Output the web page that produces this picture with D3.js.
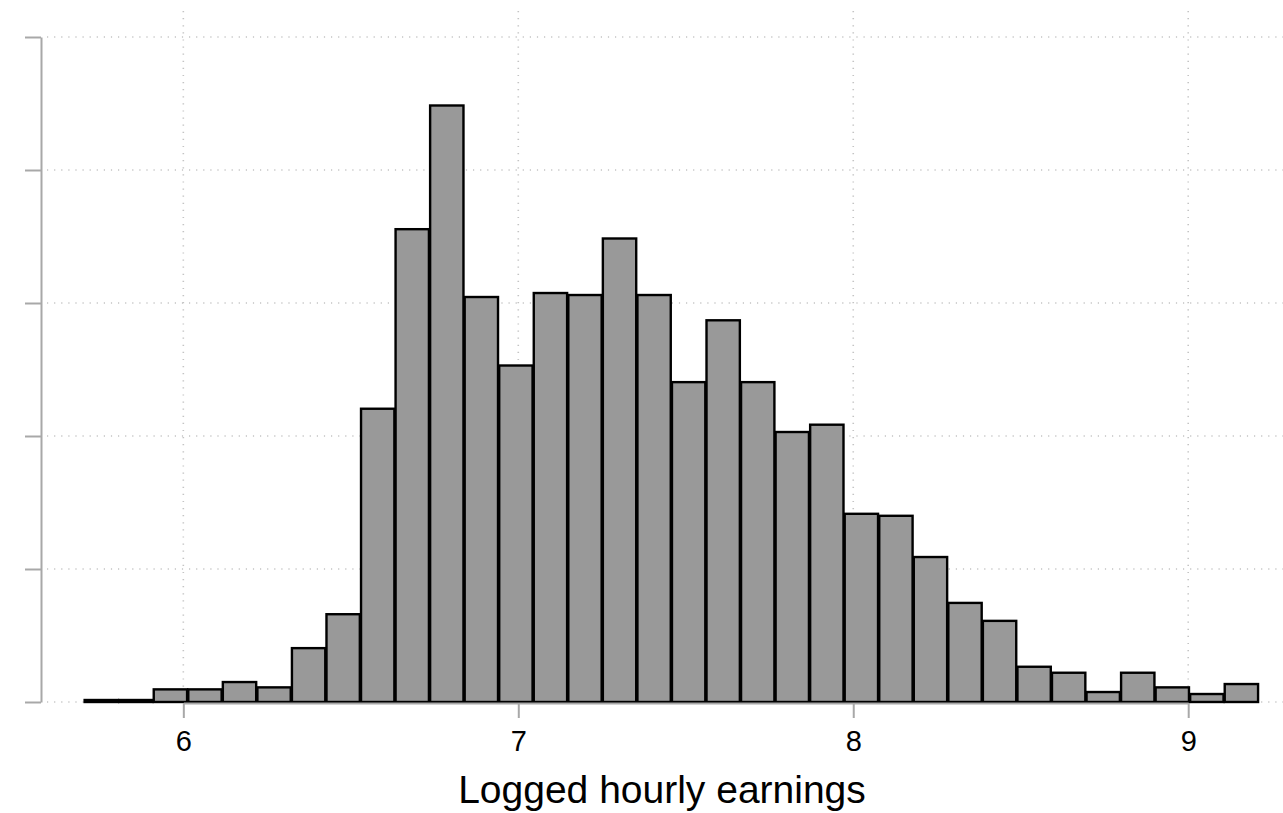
<!DOCTYPE html>
<html>
<head>
<meta charset="utf-8">
<script src="https://cdn.jsdelivr.net/npm/d3@7"></script>
<style>
  body { margin: 0; background: #fff; }
  text { font-family: "Liberation Sans", Arial, Helvetica, sans-serif; fill: #000; }
</style>
</head>
<body>
<div id="chart"></div>
<script>
// histogram bins (density)
const binStart = 5.7036,
    binWidth = 0.10314;
const density = [0.003, 0.003, 0.019, 0.019, 0.030, 0.022, 0.081, 0.132, 0.441, 0.711,
    0.897, 0.609, 0.506, 0.615, 0.612, 0.697, 0.612, 0.481, 0.574, 0.481,
    0.406, 0.417, 0.283, 0.280, 0.218, 0.149, 0.122, 0.053, 0.044, 0.015,
    0.044, 0.022, 0.012, 0.027];
const xTicks = [6, 7, 8, 9];
const yTicks = [0, 0.2, 0.4, 0.6, 0.8, 1];
const xTitle = "Logged hourly earnings";

const width = 1283,
    height = 813,
    margin = ({ top: 37, right: 0, bottom: 111, left: 47 });

const svg = d3.select("#chart")
    .append("svg")
    .attr("width", width)
    .attr("height", height);

let x = d3.scaleLinear()
    .domain([5.593, 9.283])
    .range([margin.left, width - margin.right]);

let y = d3.scaleLinear()
    .domain([0, 1])
    .range([height - margin.bottom, margin.top]);

const bins = density.map((d, i) => ({ x0: binStart + i * binWidth, x1: binStart + (i + 1) * binWidth, v: d }));

// dotted grid
svg.append("g")
    .selectAll("line")
    .data(yTicks)
    .join("line")
    .attr("x1", margin.left)
    .attr("x2", width)
    .attr("y1", d => y(d))
    .attr("y2", d => y(d))
    .attr("stroke", "#c4c4c4")
    .attr("stroke-width", 1.6)
    .attr("stroke-dasharray", "1.2,5.9");

svg.append("g")
    .selectAll("line")
    .data(xTicks)
    .join("line")
    .attr("x1", d => x(d))
    .attr("x2", d => x(d))
    .attr("y1", 11)
    .attr("y2", y(0))
    .attr("stroke", "#c4c4c4")
    .attr("stroke-width", 1.6)
    .attr("stroke-dasharray", "1.2,5.9");

// bars
svg.append("g")
    .selectAll("rect")
    .data(bins)
    .join("rect")
    .attr("x", d => x(d.x0) + 0.6)
    .attr("width", d => x(d.x1) - x(d.x0) - 1.2)
    .attr("y", d => y(d.v))
    .attr("height", d => y(0) - y(d.v))
    .attr("fill", "#999999")
    .attr("stroke", "#000")
    .attr("stroke-width", 2.4);

// y axis (no labels)
const yAxis = svg.append("g")
    .attr("transform", "translate(41,0)")
    .call(d3.axisLeft(y).tickValues(yTicks).tickSize(16).tickSizeOuter(0).tickFormat(""));
yAxis.selectAll("line, path").attr("stroke", "#a8a8a8").attr("stroke-width", 2);

// x axis, line spans first to last tick
const xAxis = svg.append("g")
    .attr("transform", `translate(0,${y(0) + 1})`)
    .call(d3.axisBottom(x.copy().domain([6, 9]).range([x(6), x(9)]))
        .tickValues(xTicks).tickSize(15).tickSizeOuter(0).tickPadding(12).tickFormat(d3.format("d")));
xAxis.selectAll("line, path").attr("stroke", "#a8a8a8").attr("stroke-width", 2);
xAxis.selectAll("text")
    .style("font-size", "29px")
    .attr("fill", "#000");

svg.append("text")
    .attr("text-anchor", "middle")
    .attr("x", 662)
    .attr("y", 803)
    .style("font-size", "39px")
    .text(xTitle);
</script>
</body>
</html>
